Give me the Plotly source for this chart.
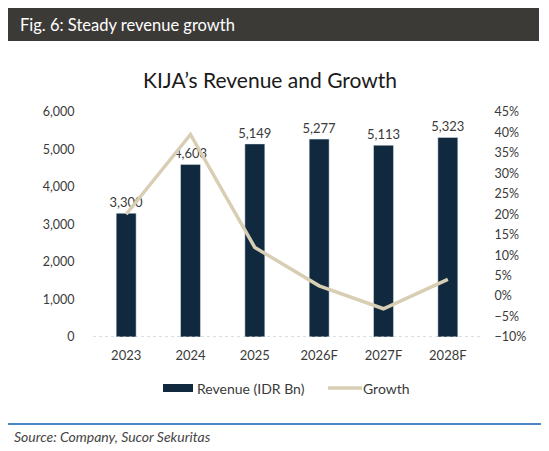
import plotly.graph_objects as go

# Data
years = ["2023", "2024", "2025", "2026F", "2027F", "2028F"]
revenue = [3300, 4603, 5149, 5277, 5113, 5323]  # IDR Bn
growth = [20.0, 39.5, 11.9, 2.5, -3.1, 4.1]  # %

W, H = 549, 451
OFF = 8  # the page body margin pushes the plot 8px right/down


def px(x):
    return (x - OFF) / W


def py(y):
    return 1 - (y - OFF) / H


FONT = "Lato"
TXT = "#3a3a3a"
BAR = "#10293f"
LINE = "#d8ceb3"

fig = go.Figure()

fig.add_trace(
    go.Bar(
        x=years,
        y=revenue,
        name="Revenue (IDR Bn)",
        marker_color=BAR,
        width=0.31,
        text=[f"{v:,}" for v in revenue],
        textposition="outside",
        constraintext="none",
        textfont=dict(size=13, color=TXT, family=FONT),
        cliponaxis=False,
    )
)

fig.add_trace(
    go.Scatter(
        x=years,
        y=growth,
        name="Growth",
        mode="lines",
        line=dict(color=LINE, width=3.5),
        yaxis="y2",
    )
)

# header band, title, footer
fig.add_shape(type="rect", xref="paper", yref="paper",
              x0=px(7), x1=px(539), y0=py(41), y1=py(8),
              fillcolor="#3c3a37", line_width=0, layer="below")
fig.add_annotation(text="Fig. 6: Steady revenue growth", xref="paper", yref="paper",
                   x=px(18), y=py(25), xanchor="left", yanchor="middle", showarrow=False,
                   font=dict(size=16.5, color="white", family=FONT))
fig.add_annotation(text="KIJA’s Revenue and Growth", xref="paper", yref="paper",
                   x=px(270), y=py(79), xanchor="center", yanchor="middle", showarrow=False,
                   font=dict(size=21, color="#1a1a1a", family=FONT))
fig.add_shape(type="line", xref="paper", yref="paper",
              x0=px(7), x1=px(549), y0=py(424), y1=py(424),
              line=dict(color="#4a86c8", width=2))
fig.add_annotation(text="<i>Source: Company, Sucor Sekuritas</i>", xref="paper", yref="paper",
                   x=px(12), y=py(436), xanchor="left", yanchor="middle", showarrow=False,
                   font=dict(size=14, color="#444444", family=FONT))

# custom legend (wide swatches like the reference)
fig.add_shape(type="rect", xref="paper", yref="paper",
              x0=px(163), x1=px(193), y0=py(392), y1=py(384),
              fillcolor=BAR, line_width=0)
fig.add_annotation(text="Revenue (IDR Bn)", xref="paper", yref="paper",
                   x=px(195), y=py(388), xanchor="left", yanchor="middle", showarrow=False,
                   font=dict(size=14, color=TXT, family=FONT))
fig.add_shape(type="line", xref="paper", yref="paper",
              x0=px(328), x1=px(362), y0=py(388), y1=py(388),
              line=dict(color=LINE, width=3.5))
fig.add_annotation(text="Growth", xref="paper", yref="paper",
                   x=px(361), y=py(388), xanchor="left", yanchor="middle", showarrow=False,
                   font=dict(size=14, color=TXT, family=FONT))

# dotted baseline
fig.add_shape(type="line", xref="paper", yref="y",
              x0=px(93), x1=px(480), y0=0, y1=0,
              line=dict(color="#bdbdbd", width=1, dash="dot"))

fig.update_layout(
    width=W,
    height=H,
    margin=dict(l=0, r=0, t=0, b=0),
    paper_bgcolor="white",
    plot_bgcolor="white",
    font=dict(family=FONT, color=TXT, size=12),
    showlegend=False,
    xaxis=dict(domain=[px(94), px(480)], showgrid=False, showline=False, zeroline=False,
               ticks="outside", ticklen=6, tickcolor="rgba(0,0,0,0)", automargin=False,
               tickfont=dict(size=13, color=TXT)),
    yaxis=dict(domain=[py(337), py(112)], range=[0, 6000], dtick=1000, tickformat=",",
               showgrid=False, zeroline=False, showline=False,
               ticks="outside", ticklen=16, tickcolor="rgba(0,0,0,0)", automargin=False,
               tickfont=dict(size=12.5, color=TXT)),
    yaxis2=dict(overlaying="y", side="right", range=[-10, 45], dtick=5, ticksuffix="%",
                showgrid=False, zeroline=False, showline=False,
                ticks="outside", ticklen=11, tickcolor="rgba(0,0,0,0)", automargin=False,
                tickfont=dict(size=12.5, color=TXT)),
    bargap=0.69,
)

fig.write_html("out.html")
